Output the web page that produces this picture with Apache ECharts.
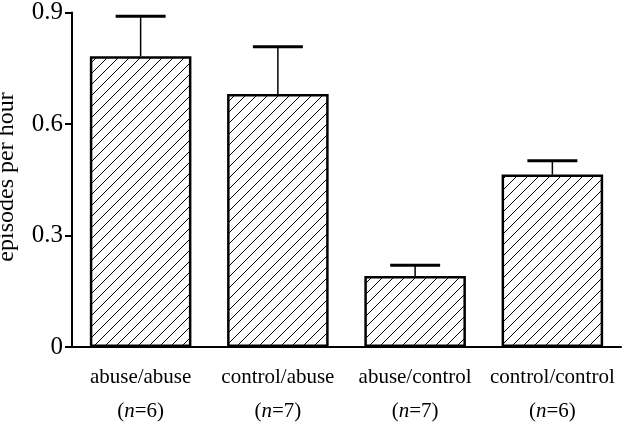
<!DOCTYPE html>
<html>
<head>
<meta charset="utf-8">
<script src="https://cdn.jsdelivr.net/npm/echarts@6/dist/echarts.min.js"></script>
<style>
  html, body { margin: 0; padding: 0; background: #fff; }
  #chart { width: 624px; height: 428px; }
</style>
</head>
<body>
<div id="chart"></div>
<script>
const groups = ['abuse/abuse', 'control/abuse', 'abuse/control', 'control/control'];
const groupN = [6, 7, 7, 6];
const means = [0.782, 0.681, 0.191, 0.464];
const sem = [0.108, 0.127, 0.029, 0.037];
const yTicks = [0, 0.3, 0.6, 0.9];

const FONT = '"Liberation Serif", "DejaVu Serif", serif';

// hatch fill: thin "/" lines
function hatch() {
    const s = 11;
    const c = document.createElement('canvas');
    c.width = s; c.height = s;
    const ctx = c.getContext('2d');
    ctx.fillStyle = '#fff';
    ctx.fillRect(0, 0, s, s);
    ctx.strokeStyle = '#000';
    ctx.lineWidth = 1;
    ctx.beginPath();
    ctx.moveTo(-1, s + 1); ctx.lineTo(s + 1, -1);
    ctx.moveTo(-1, 1); ctx.lineTo(1, -1);
    ctx.moveTo(s - 1, s + 1); ctx.lineTo(s + 1, s - 1);
    ctx.stroke();
    return c;
}

const chart = echarts.init(document.getElementById('chart'));

const option = {
    backgroundColor: '#fff',
    animation: false,
    grid: { left: 72, right: 3, top: 7, bottom: 81 },
    xAxis: {
        type: 'category',
        data: groups,
        axisLine: { lineStyle: { color: '#000', width: 2 } },
        axisTick: { length: 5, lineStyle: { color: '#000', width: 1.5 } },
        axisLabel: {
            interval: 0,
            margin: 13,
            color: '#000',
            fontFamily: FONT,
            fontSize: 21,
            lineHeight: 34,
            formatter: (v, i) => v + '\n{p|(}{i|n}{p|=' + groupN[i] + ')}',
            rich: {
                p: { fontFamily: FONT, fontSize: 21, lineHeight: 34, color: '#000' },
                i: { fontFamily: FONT, fontSize: 21, lineHeight: 34, fontStyle: 'italic', color: '#000' }
            }
        }
    },
    yAxis: {
        type: 'value',
        min: yTicks[0],
        max: yTicks[yTicks.length - 1],
        interval: 0.3,
        splitLine: { show: false },
        axisLine: { show: true, lineStyle: { color: '#000', width: 2 } },
        axisTick: { show: true, length: 7, lineStyle: { color: '#000', width: 2 } },
        axisLabel: {
            margin: 9,
            color: '#000',
            fontFamily: FONT,
            fontSize: 25
        }
    },
    graphic: [{
        type: 'text',
        x: 7,
        y: 177,
        rotation: Math.PI / 2,
        style: {
            text: 'episodes per hour',
            fontFamily: FONT,
            fontSize: 24,
            fill: '#000',
            align: 'center',
            verticalAlign: 'middle'
        }
    }],
    series: [{
        type: 'bar',
        data: means,
        barWidth: '74%',
        itemStyle: {
            color: { image: hatch(), repeat: 'repeat' },
            borderColor: '#000',
            borderWidth: 2.5
        },
        z: 2
    }, {
        type: 'custom',
        data: means.map((m, i) => [i, m, m + sem[i]]),
        encode: { x: 0, y: [1, 2] },
        z: 3,
        renderItem: function (params, api) {
            const base = api.coord([api.value(0), api.value(1)]);
            const top = api.coord([api.value(0), api.value(2)]);
            const half = 25;
            return {
                type: 'group',
                children: [{
                    type: 'line',
                    shape: { x1: base[0], y1: base[1], x2: top[0], y2: top[1] },
                    style: { stroke: '#000', lineWidth: 1.5 }
                }, {
                    type: 'line',
                    shape: { x1: top[0] - half, y1: top[1], x2: top[0] + half, y2: top[1] },
                    style: { stroke: '#000', lineWidth: 3 }
                }]
            };
        }
    }]
};

chart.setOption(option);
</script>
</body>
</html>
